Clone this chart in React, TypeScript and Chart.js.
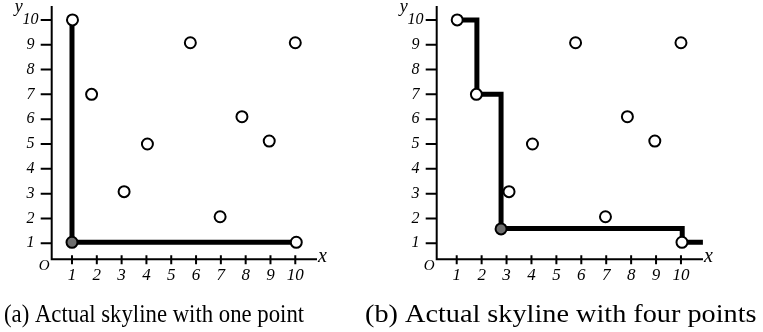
import { useEffect, useRef } from "react";
import { Chart, registerables } from "chart.js";

Chart.register(...registerables);

// Integer ticks shown on both axes
const tickValues = [1, 2, 3, 4, 5, 6, 7, 8, 9, 10];

// The data set (white points)
const pointX = [1.02, 1.79, 3.1, 4.04, 5.77, 6.97, 7.85, 8.95, 10.0, 10.04];
const pointY = [10, 7, 3.08, 5, 9.08, 2.07, 6.1, 5.12, 9.08, 1.04];

// (a) skyline through a single point
const skylineOneX = [1.0, 1.0, 10.04];
const skylineOneY = [10, 1.04, 1.04];
const pivotOneX = [1.0];
const pivotOneY = [1.04];

// (b) skyline through four points
const skylineFourX = [1.02, 1.81, 1.81, 2.78, 2.78, 10.05, 10.05, 10.88];
const skylineFourY = [10, 10, 7, 7, 1.6, 1.6, 1.04, 1.04];
const pivotFourX = [2.78];
const pivotFourY = [1.58];

const captions = [
  "(a) Actual skyline with one point",
  "(b) Actual skyline with four points",
];

const SERIF = '"Liberation Serif", "Times New Roman", serif';

const toXY = (xs: number[], ys: number[]) => xs.map((x, i) => ({ x, y: ys[i] }));

type PanelLayout = {
  left: number;
  width: number;
  padLeft: number;
  padRight: number;
  yAxisWidth: number;
  xMin: number;
  xMax: number;
  captionSize: number;
  captionStretch: number;
};

const layouts: PanelLayout[] = [
  { left: 0, width: 360, padLeft: 4, padRight: 43, yAxisWidth: 47.7, xMin: 0.182, xMax: 10.875, captionSize: 25, captionStretch: 0.91 },
  { left: 360, width: 403, padLeft: 5, padRight: 60, yAxisWidth: 71.7, xMin: 0.197, xMax: 10.884, captionSize: 25, captionStretch: 1.13 },
];

// Draws the plain axis lines, tick marks and axis names
const axesPlugin = {
  id: "plainAxes",
  beforeDatasetsDraw(chart: any) {
    const { ctx, chartArea: a, scales } = chart;
    const xs = scales.x;
    const ys = scales.y;
    ctx.save();
    ctx.strokeStyle = "#000";
    ctx.lineWidth = 2;
    ctx.lineCap = "butt";
    ctx.beginPath();
    ctx.moveTo(a.left, a.top - 1);
    ctx.lineTo(a.left, a.bottom);
    ctx.lineTo(a.right, a.bottom);
    for (const t of ys.ticks) {
      const py = ys.getPixelForValue(t.value);
      ctx.moveTo(a.left - 11, py);
      ctx.lineTo(a.left, py);
    }
    for (const t of xs.ticks) {
      const px = xs.getPixelForValue(t.value);
      ctx.moveTo(px, a.bottom - 4);
      ctx.lineTo(px, a.bottom + 5);
    }
    ctx.stroke();

    ctx.fillStyle = "#000";
    ctx.textBaseline = "alphabetic";
    ctx.textAlign = "left";
    ctx.font = `italic 18px ${SERIF}`;
    ctx.fillText("y", a.left - 37, a.top + 4.5);
    ctx.font = `italic 20px ${SERIF}`;
    ctx.fillText("x", a.right + 1, a.bottom + 2.5);
    ctx.font = `italic 15px ${SERIF}`;
    ctx.textAlign = "center";
    ctx.fillText("O", a.left - 7.5, a.bottom + 11);
    ctx.restore();
  },
};

// Caption line under the plot
const makeCaptionPlugin = (text: string, size: number, stretch: number, x: number) => ({
  id: "caption",
  afterDraw(chart: any) {
    const { ctx } = chart;
    ctx.save();
    ctx.fillStyle = "#000";
    ctx.font = `${size}px ${SERIF}`;
    ctx.textAlign = "left";
    ctx.textBaseline = "alphabetic";
    ctx.translate(x, 322);
    ctx.scale(stretch, 1);
    ctx.fillText(text, 0, 0);
    ctx.restore();
  },
});

function SkylinePanel({
  layout,
  caption,
  skyX,
  skyY,
  pivX,
  pivY,
}: {
  layout: PanelLayout;
  caption: string;
  skyX: number[];
  skyY: number[];
  pivX: number[];
  pivY: number[];
}) {
  const ref = useRef<HTMLCanvasElement | null>(null);

  useEffect(() => {
    if (!ref.current) return;
    const chart = new Chart(ref.current, {
      type: "scatter",
      data: {
        datasets: [
          {
            data: toXY(pivX, pivY),
            pointRadius: 5.5,
            pointBorderWidth: 2,
            pointBackgroundColor: "#6e6e6e",
            pointBorderColor: "#000",
            order: 0,
          },
          {
            data: toXY(pointX, pointY),
            pointRadius: 5.5,
            pointBorderWidth: 2,
            pointBackgroundColor: "#fff",
            pointBorderColor: "#000",
            order: 1,
          },
          {
            data: toXY(skyX, skyY),
            showLine: true,
            borderColor: "#000",
            borderWidth: 5,
            borderJoinStyle: "miter",
            borderCapStyle: "butt",
            pointRadius: 0,
            tension: 0,
            order: 3,
          },
        ],
      },
      options: {
        animation: false,
        responsive: false,
        events: [],
        layout: {
          autoPadding: false,
          padding: { left: layout.padLeft, right: layout.padRight, top: 7, bottom: 31.8 },
        },
        plugins: {
          legend: { display: false },
          tooltip: { enabled: false },
          title: { display: false },
        },
        scales: {
          x: {
            type: "linear",
            min: layout.xMin,
            max: layout.xMax,
            grid: { display: false, drawTicks: false },
            border: { display: false },
            ticks: {
              color: "#000",
              font: { family: SERIF, style: "italic", size: 17 },
              padding: 6,
              autoSkip: false,
              maxRotation: 0,
            },
            afterBuildTicks: (s: any) => {
              s.ticks = tickValues.map((v) => ({ value: v }));
            },
            afterFit: (s: any) => {
              s.height = 40.9;
              s.paddingLeft = 0;
              s.paddingRight = 0;
            },
          },
          y: {
            type: "linear",
            min: 0.355,
            max: 10.52,
            grid: { display: false, drawTicks: false },
            border: { display: false },
            ticks: {
              color: "#000",
              font: { family: SERIF, style: "italic", size: 16 },
              padding: 13.2,
              crossAlign: "center",
              autoSkip: false,
            },
            afterBuildTicks: (s: any) => {
              s.ticks = tickValues.map((v) => ({ value: v }));
            },
            afterFit: (s: any) => {
              s.width = layout.yAxisWidth;
              s.paddingTop = 0;
              s.paddingBottom = 0;
            },
          },
        },
      },
      plugins: [
        axesPlugin,
        makeCaptionPlugin(caption, layout.captionSize, layout.captionStretch, layout.padLeft),
      ],
    });
    return () => chart.destroy();
  }, []);

  return (
    <canvas
      ref={ref}
      width={layout.width}
      height={332}
      style={{ position: "absolute", left: layout.left, top: 0, width: layout.width, height: 332 }}
    />
  );
}

export default function App() {
  return (
    <div style={{ position: "absolute", left: 0, top: 0, width: 763, height: 332, background: "#fff" }}>
      <SkylinePanel
        layout={layouts[0]}
        caption={captions[0]}
        skyX={skylineOneX}
        skyY={skylineOneY}
        pivX={pivotOneX}
        pivY={pivotOneY}
      />
      <SkylinePanel
        layout={layouts[1]}
        caption={captions[1]}
        skyX={skylineFourX}
        skyY={skylineFourY}
        pivX={pivotFourX}
        pivY={pivotFourY}
      />
    </div>
  );
}
